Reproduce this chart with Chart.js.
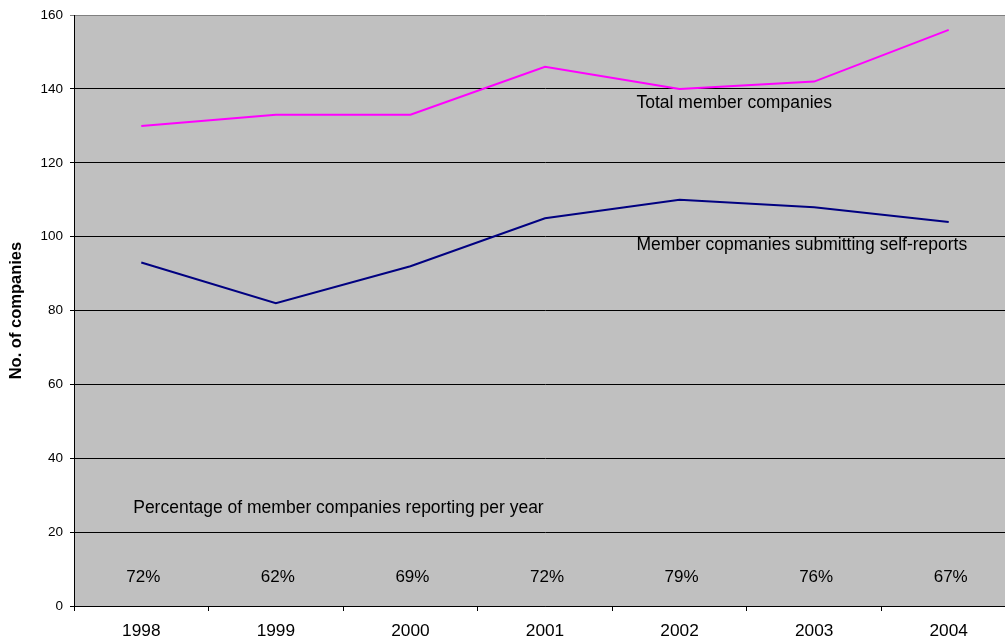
<!DOCTYPE html>
<html>
<head>
<meta charset="utf-8">
<script src="https://cdn.jsdelivr.net/npm/chart.js@4/dist/chart.umd.min.js"></script>
<style>
  html, body { margin: 0; padding: 0; overflow: hidden; background: #fff; }
  #wrap { width: 1020px; height: 640px; }
</style>
</head>
<body>
<div id="wrap"><canvas id="chart"></canvas></div>
<script>
const years = ['1998', '1999', '2000', '2001', '2002', '2003', '2004'];
const totalMembers = [130, 133, 133, 146, 140, 142, 156];
const selfReports = [93, 82, 92, 105, 110, 108, 104];
const reportingShare = ['72%', '62%', '69%', '72%', '79%', '76%', '67%'];
const yTicks = [0, 20, 40, 60, 80, 100, 120, 140, 160];

const FONT = '"Liberation Sans", Arial, sans-serif';

// text notes placed in data units (category index, value)
const notes = [
  { text: 'Total member companies', at: [3.68, 136.2] },
  { text: 'Member copmanies submitting self-reports', at: [3.68, 97.6] },
  { text: 'Percentage of member companies reporting per year', at: [-0.06, 26.5] }
];
const shareRowValue = 7.8;

const plotBackground = {
  id: 'plotBackground',
  beforeDraw(chart) {
    const { ctx, chartArea } = chart;
    ctx.save();
    ctx.fillStyle = '#c0c0c0';
    ctx.fillRect(chartArea.left, chartArea.top, chartArea.right - chartArea.left, chartArea.bottom - chartArea.top);
    ctx.restore();
  }
};

const textNotes = {
  id: 'textNotes',
  afterDatasetsDraw(chart) {
    const { ctx, scales } = chart;
    const x = scales.x;
    const y = scales.y;
    ctx.save();
    ctx.fillStyle = '#000';
    ctx.textBaseline = 'middle';

    ctx.font = '17.5px ' + FONT;
    ctx.textAlign = 'left';
    notes.forEach((note) => {
      const step = x.getPixelForValue(1) - x.getPixelForValue(0);
      const px = x.getPixelForValue(0) + note.at[0] * step;
      ctx.fillText(note.text, px, y.getPixelForValue(note.at[1]));
    });

    ctx.font = '17px ' + FONT;
    ctx.textAlign = 'center';
    reportingShare.forEach((label, i) => {
      ctx.fillText(label, x.getPixelForValue(i) + 2, y.getPixelForValue(shareRowValue));
    });
    ctx.restore();
  }
};

new Chart(document.getElementById('chart'), {
  type: 'line',
  data: {
    labels: years,
    datasets: [
      {
        label: 'Total member companies',
        data: totalMembers,
        borderColor: '#ff00ff',
        backgroundColor: '#ff00ff',
        borderWidth: 2,
        pointRadius: 0,
        tension: 0,
        fill: false
      },
      {
        label: 'Member companies submitting self-reports',
        data: selfReports,
        borderColor: '#000080',
        backgroundColor: '#000080',
        borderWidth: 2,
        pointRadius: 0,
        tension: 0,
        fill: false
      }
    ]
  },
  options: {
    responsive: true,
    maintainAspectRatio: false,
    animation: false,
    layout: {
      padding: { top: 14, right: 4, bottom: 0, left: 0 }
    },
    plugins: {
      legend: { display: false },
      tooltip: { enabled: false }
    },
    scales: {
      x: {
        type: 'category',
        offset: true,
        afterFit(scale) {
          scale.height = 34;
        },
        grid: {
          offset: true,
          drawOnChartArea: false,
          drawTicks: true,
          tickLength: 5,
          color: '#000'
        },
        border: { color: '#000', width: 1 },
        ticks: {
          color: '#000',
          padding: 10,
          maxRotation: 0,
          font: { family: FONT, size: 17.3 }
        }
      },
      y: {
        min: 0,
        max: 160,
        afterFit(scale) {
          scale.width = 74;
        },
        afterBuildTicks(scale) {
          scale.ticks = yTicks.map((v) => ({ value: v }));
        },
        grid: {
          color: (ctx) => (ctx.tick && ctx.tick.value === 160 ? '#808080' : '#000'),
          tickLength: 4,
          lineWidth: 1
        },
        border: { color: '#000', width: 1 },
        ticks: {
          color: '#000',
          padding: 7,
          font: { family: FONT, size: 13.5 }
        },
        title: {
          display: true,
          text: 'No. of companies',
          color: '#000',
          padding: { top: 7, bottom: 0 },
          font: { family: FONT, size: 16.5, weight: 'bold' }
        }
      }
    }
  },
  plugins: [plotBackground, textNotes]
});
</script>
</body>
</html>
